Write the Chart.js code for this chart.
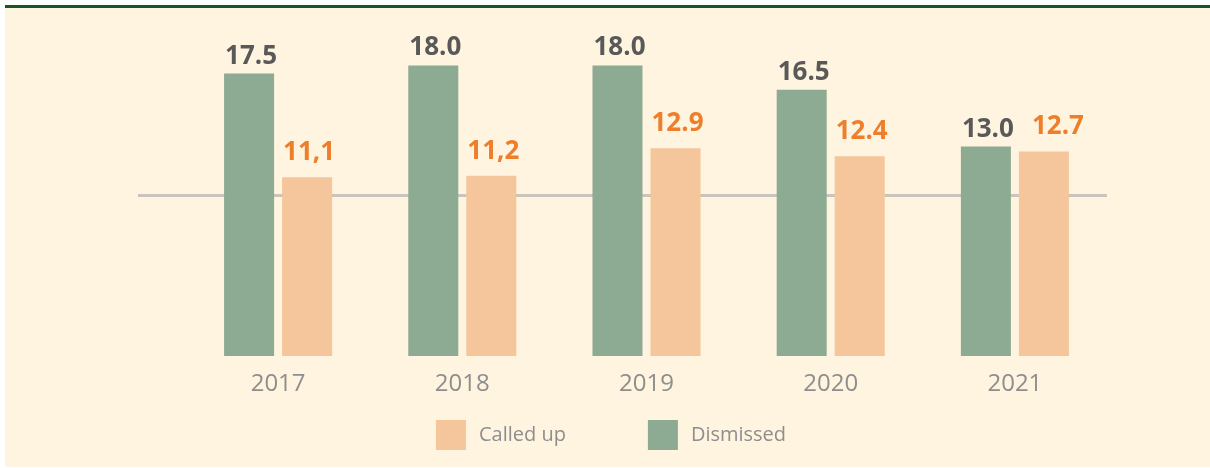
<!DOCTYPE html>
<html>
<head>
<meta charset="utf-8">
<script src="https://cdn.jsdelivr.net/npm/chart.js@4"></script>
<style>
  html, body { margin: 0; padding: 0; background: #fff; }
  canvas { display: block; }
</style>
</head>
<body>
<canvas id="chart" width="1210" height="468"></canvas>
<script>
// data
const years = ['2017', '2018', '2019', '2020', '2021'];
const dismissed = [17.5, 18.0, 18.0, 16.5, 13.0];
const calledUp = [11.1, 11.2, 12.9, 12.4, 12.7];
const dismissedText = ['17.5', '18.0', '18.0', '16.5', '13.0'];
const calledUpText = ['11,1', '11,2', '12.9', '12.4', '12.7'];

const GREEN = '#8DAA92';
const ORANGE = '#F5C59B';
const GREY = '#8E8E8E';

// cream panel with the dark green rule on top
const panel = {
  id: 'panel',
  beforeDraw(chart) {
    const ctx = chart.ctx;
    ctx.save();
    ctx.fillStyle = '#fff';
    ctx.fillRect(0, 0, chart.width, chart.height);
    ctx.fillStyle = '#FFF4DF';
    ctx.fillRect(5, 8, chart.width - 5, chart.height - 9);
    ctx.fillStyle = '#1D5128';
    ctx.fillRect(5, 5, chart.width - 5, 3);
    ctx.restore();
  }
};

// numbers above the bars, pushed apart when they would collide
const valueLabels = {
  id: 'valueLabels',
  afterDatasetsDraw(chart) {
    const ctx = chart.ctx;
    const texts = [dismissedText, calledUpText];
    const colors = ['#595959', '#EE7E2A'];
    const gaps = [10, 17];
    ctx.save();
    ctx.font = 'bold 26px "Open Sans"';
    ctx.textAlign = 'center';
    ctx.textBaseline = 'alphabetic';
    const greenBars = chart.getDatasetMeta(0).data;
    chart.data.datasets.forEach((ds, i) => {
      ctx.fillStyle = colors[i];
      chart.getDatasetMeta(i).data.forEach((bar, j) => {
        let x = bar.x + 2;
        const y = bar.y - gaps[i];
        if (i === 1) {
          const g = greenBars[j];
          const gRight = g.x + 2 + ctx.measureText(texts[0][j]).width / 2;
          const w = ctx.measureText(texts[i][j]).width;
          const gBase = g.y - gaps[0];
          if (Math.abs(gBase - y) < 26 && x - w / 2 < gRight + 18) x = gRight + 18 + w / 2;
        }
        ctx.fillText(texts[i][j], x, y);
      });
    });
    ctx.restore();
  }
};

// legend at the bottom: Called up first, then Dismissed
const bottomLegend = {
  id: 'bottomLegend',
  afterDraw(chart) {
    const ctx = chart.ctx;
    const items = chart.data.datasets.slice().reverse();
    const box = 30, textGap = 13, itemGap = 82;
    ctx.save();
    ctx.font = '20px "Open Sans"';
    const widths = items.map(ds => box + textGap + ctx.measureText(ds.label).width);
    const total = widths.reduce((a, b) => a + b, 0) + itemGap * (items.length - 1);
    let x = (chart.width + 10) / 2 - total / 2 + 1;
    const top = 420;
    items.forEach((ds, i) => {
      ctx.fillStyle = ds.backgroundColor;
      ctx.fillRect(x, top, box, box);
      ctx.fillStyle = GREY;
      ctx.textBaseline = 'middle';
      ctx.textAlign = 'left';
      ctx.fillText(ds.label, x + box + textGap, top + box / 2);
      x += widths[i] + itemGap;
    });
    ctx.restore();
  }
};

new Chart(document.getElementById('chart'), {
  type: 'bar',
  data: {
    labels: years,
    datasets: [
      { label: 'Dismissed', data: dismissed, backgroundColor: GREEN },
      { label: 'Called up', data: calledUp, backgroundColor: ORANGE }
    ]
  },
  options: {
    responsive: false,
    animation: false,
    categoryPercentage: 0.63,
    barPercentage: 0.862,
    layout: { padding: { left: 138, right: 103, top: 33, bottom: 57.8 } },
    plugins: {
      legend: { display: false },
      tooltip: { enabled: false }
    },
    scales: {
      x: {
        grid: { display: false, drawTicks: false },
        border: { display: false },
        ticks: {
          color: GREY,
          padding: 12,
          font: { family: '"Open Sans"', size: 24 }
        }
      },
      y: {
        min: 0,
        max: 20,
        border: { display: false },
        ticks: { display: false, stepSize: 10 },
        grid: {
          drawTicks: true,
          tickLength: 48,
          lineWidth: 3,
          color: c => (c.tick && c.tick.value === 10 ? '#C9C5BC' : 'rgba(0,0,0,0)')
        }
      }
    }
  },
  plugins: [panel, valueLabels, bottomLegend]
});
</script>
</body>
</html>
